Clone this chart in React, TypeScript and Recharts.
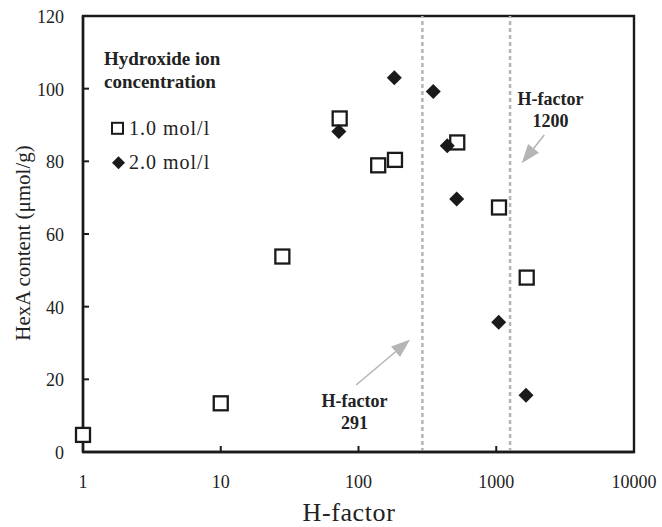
import { ScatterChart, Scatter, XAxis, YAxis, ReferenceLine, ReferenceArea, Legend } from 'recharts'

// H-factor vs HexA content, two hydroxide ion concentrations
const hFactor1 = [1, 10, 28, 73, 139, 184, 521, 1047, 1664]
const hexa1 = [4.7, 13.4, 53.8, 91.8, 78.9, 80.4, 85.2, 67.3, 48.0]
const hFactor2 = [72, 182, 349, 441, 516, 1042, 1644]
const hexa2 = [88.2, 103.0, 99.2, 84.3, 69.6, 35.7, 15.6]
const seriesNames = ['1.0 mol/l', '2.0 mol/l']

const xTicks = [1, 10, 100, 1000, 10000]
const yTicks = [0, 20, 40, 60, 80, 100, 120]
const markerLines = [291, 1260]
const markerLabels = ['291', '1200']

const FONT = '"Liberation Serif", "Times New Roman", serif'
const INK = '#1a1a1a'
const TEXT = '#222'
const GREY = '#b5b5b5'

const data1 = hFactor1.map((h, i) => ({ h, hexa: hexa1[i] }))
const data2 = hFactor2.map((h, i) => ({ h, hexa: hexa2[i] }))

function SquareShape({ cx, cy }: any) {
  return <rect x={cx - 7} y={cy - 7} width={14} height={14} fill="#fff" stroke={INK} strokeWidth={2.3} />
}

function DiamondShape({ cx, cy }: any) {
  const r = 7.5
  return <polygon points={`${cx},${cy - r} ${cx + r},${cy} ${cx},${cy + r} ${cx - r},${cy}`} fill={INK} />
}

function XTick({ x, y, payload }: any) {
  return (
    <g>
      <line x1={x} y1={y} x2={x} y2={y - 6} stroke={INK} strokeWidth={2} />
      <text x={x} y={y + 36} textAnchor="middle" fontFamily={FONT} fontSize={18} fill={TEXT}>{payload.value}</text>
    </g>
  )
}

function YTick({ x, y, payload }: any) {
  return (
    <g>
      <line x1={x} y1={y} x2={x + 6} y2={y} stroke={INK} strokeWidth={2} />
      <text x={x - 19} y={y + 7} textAnchor="end" fontFamily={FONT} fontSize={18} fill={TEXT}>{payload.value}</text>
    </g>
  )
}

function Arrow({ x1, y1, x2, y2, head = 19, half = 7 }: any) {
  const dx = x2 - x1
  const dy = y2 - y1
  const len = Math.sqrt(dx * dx + dy * dy)
  const ux = dx / len
  const uy = dy / len
  const bx = x2 - ux * head
  const by = y2 - uy * head
  const pts = `${x2},${y2} ${bx - uy * half},${by + ux * half} ${bx + uy * half},${by - ux * half}`
  return (
    <g>
      <line x1={x1} y1={y1} x2={bx} y2={by} stroke={GREY} strokeWidth={1.6} />
      <polygon points={pts} fill={GREY} />
    </g>
  )
}

function Callout({ viewBox, label, tx, ty, ax1, ay1, ax2, ay2 }: any) {
  if (!viewBox) return null
  const { x, y } = viewBox
  return (
    <g>
      <text x={x + tx} y={y + ty} textAnchor="middle" fontFamily={FONT} fontWeight="bold" fontSize={18} fill={TEXT}>H-factor</text>
      <text x={x + tx} y={y + ty + 22} textAnchor="middle" fontFamily={FONT} fontWeight="bold" fontSize={18} fill={TEXT}>{label}</text>
      <Arrow x1={x + ax1} y1={y + ay1} x2={x + ax2} y2={y + ay2} />
    </g>
  )
}

function LegendBox({ payload }: any) {
  const items = payload || []
  return (
    <svg width={200} height={150} style={{ display: 'block', overflow: 'visible' }}>
      <text x={9} y={25} fontFamily={FONT} fontWeight="bold" fontSize={19} fill={TEXT}>Hydroxide ion</text>
      <text x={9} y={47.5} fontFamily={FONT} fontWeight="bold" fontSize={19} fill={TEXT}>concentration</text>
      {items.map((entry: any, i: number) => {
        const cy = i === 0 ? 88.3 : 122.7
        return (
          <g key={i}>
            {i === 0
              ? <rect x={17} y={cy - 5.5} width={11} height={11} fill="#fff" stroke={INK} strokeWidth={2} />
              : <polygon points={`${23.5},${cy - 6.5} ${30},${cy} ${23.5},${cy + 6.5} ${17},${cy}`} fill={INK} />}
            <text x={34} y={cy + 6.5} fontFamily={FONT} fontSize={20} letterSpacing={1} fill={TEXT}>{entry.value}</text>
          </g>
        )
      })}
    </svg>
  )
}

export default function App() {
  return (
    <div style={{ position: 'absolute', left: 0, top: 0, width: 662, height: 527, background: '#fff' }}>
      <ScatterChart width={662} height={527} margin={{ top: 16, right: 28, left: 0, bottom: 0 }}>
        <XAxis
          dataKey="h"
          type="number"
          scale="log"
          domain={[1, 10000]}
          ticks={xTicks}
          height={75}
          tickSize={0}
          tickMargin={0}
          tickLine={false}
          axisLine={{ stroke: INK, strokeWidth: 2.4 }}
          tick={<XTick />}
          label={() => (
            <text x={349} y={521} textAnchor="middle" fontFamily={FONT} fontSize={26} letterSpacing={0.6} fill={TEXT}>H-factor</text>
          )}
        />
        <YAxis
          dataKey="hexa"
          type="number"
          domain={[0, 120]}
          ticks={yTicks}
          width={83}
          tickSize={0}
          tickMargin={0}
          tickLine={false}
          axisLine={{ stroke: INK, strokeWidth: 2.4 }}
          tick={<YTick />}
          label={() => (
            <text x={30} y={243} transform="rotate(-90, 30, 243)" textAnchor="middle" fontFamily={FONT} fontSize={21} fill={TEXT}>HexA content (μmol/g)</text>
          )}
        />
        <ReferenceArea x1={1} x2={10000} y1={0} y2={120} fill="none" stroke={INK} strokeWidth={2.4} />
        <ReferenceLine
          x={markerLines[0]}
          stroke={GREY}
          strokeWidth={2.5}
          strokeDasharray="4 3"
          label={<Callout label={markerLabels[0]} tx={-67.8} ty={390.7} ax1={-66.3} ay1={369} ax2={-12.3} ay2={323.5} />}
        />
        <ReferenceLine
          x={markerLines[1]}
          stroke={GREY}
          strokeWidth={2.5}
          strokeDasharray="4 3"
          label={<Callout label={markerLabels[1]} tx={40.4} ty={89} ax1={34.2} ay1={119} ax2={11.6} ay2={147.3} />}
        />
        <Legend
          layout="vertical"
          align="center"
          verticalAlign="middle"
          content={<LegendBox />}
          wrapperStyle={{ left: 95, top: 40, width: 200, height: 150 }}
        />
        <Scatter name={seriesNames[0]} data={data1} shape={<SquareShape />} isAnimationActive={false} />
        <Scatter name={seriesNames[1]} data={data2} shape={<DiamondShape />} isAnimationActive={false} />
      </ScatterChart>
    </div>
  )
}
